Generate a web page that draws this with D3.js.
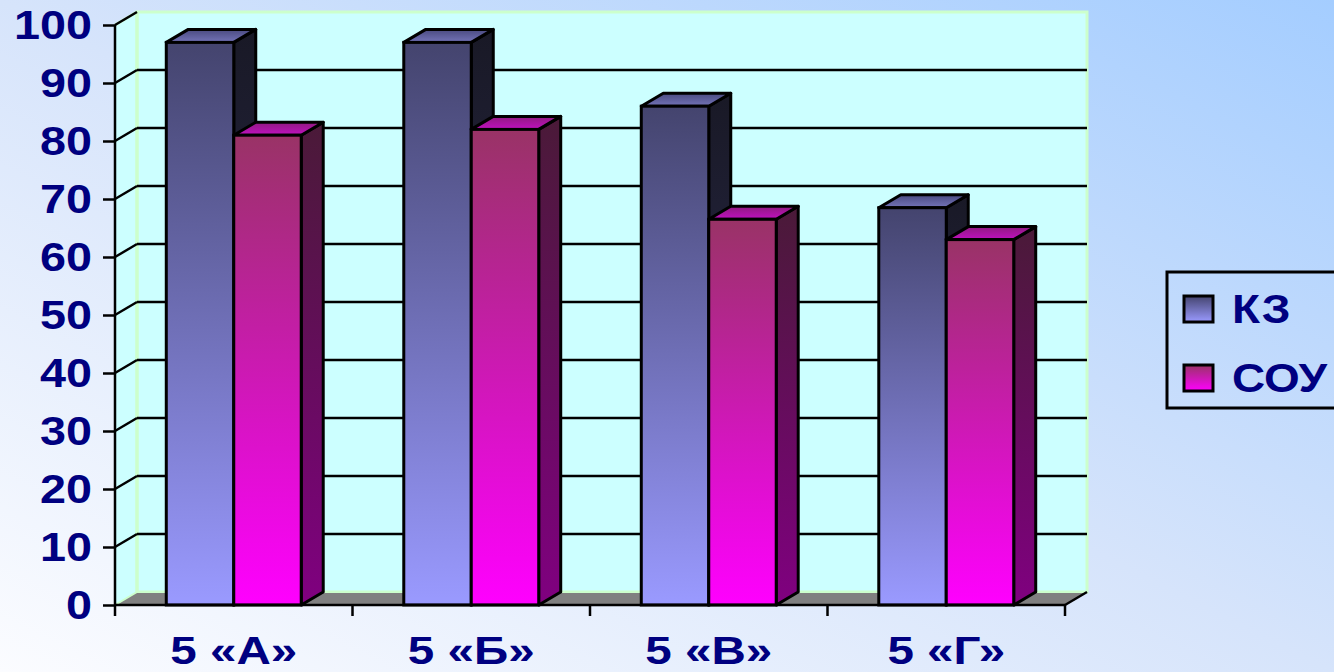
<!DOCTYPE html>
<html>
<head>
<meta charset="utf-8">
<script src="https://d3js.org/d3.v7.min.js"></script>
<style>
  html, body { margin: 0; padding: 0; overflow: hidden; }
  svg { display: block; font-family: "Liberation Sans", Arial, sans-serif; font-weight: bold; }
</style>
</head>
<body>
<svg id="chart" width="1334" height="672"></svg>
<script>
// data
var categories = ['5 «А»', '5 «Б»', '5 «В»', '5 «Г»'];
var seriesNames = ['КЗ', 'СОУ'];
var kzValues = [97, 97, 86, 68.5];
var souValues = [81, 82, 66.5, 63];
var yTicks = [0, 10, 20, 30, 40, 50, 60, 70, 80, 90, 100];

var svg = d3.select('#chart');
var W = 1334, H = 672;
var dx = 22, dy = -13;   // depth of the 3d box

var defs = svg.append('defs');
function grad(id, x1, y1, x2, y2, stops) {
    var g = defs.append('linearGradient').attr('id', id)
        .attr('x1', x1).attr('y1', y1).attr('x2', x2).attr('y2', y2);
    stops.forEach(function(s) {
        g.append('stop').attr('offset', s[0]).attr('stop-color', s[1]);
    });
}
grad('bg', '0%', '100%', '100%', '0%', [[0, '#fbfcff'], [0.5, '#d6e4fb'], [1, '#a4cdff']]);
grad('kzFront', '0', '0', '0', '1', [[0, '#44446e'], [1, '#9a9aff']]);
grad('kzSide', '0', '0', '0', '1', [[0, '#191926'], [1, '#30305a']]);
grad('kzTop', '0', '1', '0', '0', [[0, '#7474b8'], [1, '#4a4a80']]);
grad('souFront', '0', '0', '0', '1', [[0, '#993366'], [1, '#ff00ff']]);
grad('souSide', '0', '0', '0', '1', [[0, '#4a1a38'], [1, '#800080']]);
grad('souTop', '0', '1', '0', '0', [[0, '#c010c0'], [1, '#901a80']]);

svg.append('rect').attr('width', W).attr('height', H).attr('fill', 'url(#bg)');

var x0 = d3.scaleBand().domain(categories).range([115, 1065]);
var x1 = d3.scaleBand().domain(seriesNames).range([0, x0.bandwidth()]).paddingOuter(0.76);
var y = d3.scaleLinear().domain([0, 100]).range([605, 25]);

var xl = x0.range()[0], xr = x0.range()[1];
var y0 = y(0), yTop = y(100);

// left side wall
svg.append('path')
    .attr('d', 'M' + xl + ',' + y0 + 'L' + xl + ',' + yTop + 'L' + (xl + dx) + ',' + (yTop + dy) + 'L' + (xl + dx) + ',' + (y0 + dy) + 'Z')
    .attr('fill', '#ccffff');
// back wall
svg.append('rect')
    .attr('x', xl + dx).attr('y', yTop + dy)
    .attr('width', xr - xl).attr('height', y0 - yTop)
    .attr('fill', '#ccffff').attr('stroke', '#ccffcc').attr('stroke-width', 3);
svg.append('line')
    .attr('x1', xl).attr('y1', yTop).attr('x2', xl + dx).attr('y2', yTop + dy)
    .attr('stroke', '#ccffcc').attr('stroke-width', 3);
svg.append('line')
    .attr('x1', xl + dx).attr('y1', yTop + dy).attr('x2', xl + dx).attr('y2', y0 + dy)
    .attr('stroke', '#ccffcc').attr('stroke-width', 3);

// gridlines on back wall and on side wall
var grid = yTicks.filter(function(t) { return t > 0 && t < 100; });
svg.selectAll('.grid').data(grid).enter().append('line')
    .attr('class', 'grid')
    .attr('x1', xl + dx).attr('x2', xr + dx)
    .attr('y1', function(d) { return y(d) + dy; })
    .attr('y2', function(d) { return y(d) + dy; })
    .attr('stroke', '#000').attr('stroke-width', 2.5);
svg.selectAll('.sgrid').data(grid).enter().append('line')
    .attr('class', 'sgrid')
    .attr('x1', xl).attr('x2', xl + dx)
    .attr('y1', function(d) { return y(d); })
    .attr('y2', function(d) { return y(d) + dy; })
    .attr('stroke', '#000').attr('stroke-width', 2.5);

// floor
svg.append('path')
    .attr('d', 'M' + xl + ',' + y0 + 'L' + xr + ',' + y0 + 'L' + (xr + dx) + ',' + (y0 + dy) + 'L' + (xl + dx) + ',' + (y0 + dy) + 'Z')
    .attr('fill', '#808080');
svg.append('line')
    .attr('x1', xl + dx).attr('x2', xr + dx).attr('y1', y0 + dy).attr('y2', y0 + dy)
    .attr('stroke', '#ccffcc').attr('stroke-width', 2);
svg.append('line')
    .attr('x1', xr).attr('y1', y0).attr('x2', xr + dx).attr('y2', y0 + dy)
    .attr('stroke', '#000').attr('stroke-width', 2.5);
svg.append('line')
    .attr('x1', xl).attr('y1', y0).attr('x2', xl + dx).attr('y2', y0 + dy)
    .attr('stroke', '#ccffcc').attr('stroke-width', 2);

// bars
var bars = [];
categories.forEach(function(c, i) {
    bars.push({ cat: c, s: 'КЗ', v: kzValues[i], key: 'kz' });
    bars.push({ cat: c, s: 'СОУ', v: souValues[i], key: 'sou' });
});
var g = svg.selectAll('.bar').data(bars).enter().append('g').attr('class', 'bar');
function bx(d) { return x0(d.cat) + x1(d.s); }
var bw = x1.bandwidth();
g.append('path') // side
    .attr('d', function(d) {
        var a = bx(d) + bw, t = y(d.v);
        return 'M' + a + ',' + y0 + 'L' + a + ',' + t + 'L' + (a + dx) + ',' + (t + dy) + 'L' + (a + dx) + ',' + (y0 + dy) + 'Z';
    })
    .attr('fill', function(d) { return 'url(#' + d.key + 'Side)'; })
    .attr('stroke', '#000').attr('stroke-width', 3).attr('stroke-linejoin', 'round');
g.append('path') // top
    .attr('d', function(d) {
        var a = bx(d), t = y(d.v);
        return 'M' + a + ',' + t + 'L' + (a + bw) + ',' + t + 'L' + (a + bw + dx) + ',' + (t + dy) + 'L' + (a + dx) + ',' + (t + dy) + 'Z';
    })
    .attr('fill', function(d) { return 'url(#' + d.key + 'Top)'; })
    .attr('stroke', '#000').attr('stroke-width', 3).attr('stroke-linejoin', 'round');
g.append('rect') // front
    .attr('x', bx).attr('y', function(d) { return y(d.v); })
    .attr('width', bw).attr('height', function(d) { return y0 - y(d.v); })
    .attr('fill', function(d) { return 'url(#' + d.key + 'Front)'; })
    .attr('stroke', '#000').attr('stroke-width', 3);

// axes (text in the original is a bit stretched sideways)
var yAxis = d3.axisLeft(y).tickValues(yTicks).tickSize(12).tickPadding(10);
var ya = svg.append('g').attr('transform', 'translate(' + xl + ',0)').call(yAxis);
ya.select('.domain').attr('stroke', '#000').attr('stroke-width', 2.5).attr('d', 'M0,' + yTop + 'V' + y0);
ya.selectAll('.tick line').attr('stroke', '#000').attr('stroke-width', 2.5);
ya.selectAll('.tick text').attr('fill', '#000080').attr('font-size', 41).attr('font-weight', 'bold')
    .attr('font-family', '"Liberation Sans", Arial, sans-serif')
    .attr('x', 0).attr('transform', 'translate(-23,0) scale(1.14,1)');
svg.append('line')
    .attr('x1', xl).attr('y1', yTop).attr('x2', xl + dx).attr('y2', yTop + dy)
    .attr('stroke', '#000').attr('stroke-width', 2.5);

var xAxis = d3.axisBottom(x0).tickSize(0).tickPadding(0);
var xa = svg.append('g').attr('transform', 'translate(0,' + y0 + ')').call(xAxis);
xa.select('.domain').attr('stroke', '#000').attr('stroke-width', 2.5).attr('d', 'M' + xl + ',0H' + xr);
xa.selectAll('.tick text').attr('fill', '#000080').attr('font-size', 39).attr('font-weight', 'bold')
    .attr('font-family', '"Liberation Sans", Arial, sans-serif')
    .attr('y', 0).attr('dy', null)
    .attr('transform', 'translate(0,59) scale(1.22,1)');
var bounds = categories.map(function(c) { return x0(c); }).concat([xr]);
xa.selectAll('.sep').data(bounds).enter().append('line')
    .attr('class', 'sep')
    .attr('x1', function(d) { return d; }).attr('x2', function(d) { return d; })
    .attr('y1', 0).attr('y2', 11)
    .attr('stroke', '#000').attr('stroke-width', 2.5);

// legend
var lg = svg.append('g').attr('transform', 'translate(1167,272)');
lg.append('rect').attr('width', 200).attr('height', 136)
    .attr('fill', 'none').attr('stroke', '#000').attr('stroke-width', 3);
var li = lg.selectAll('.li').data(seriesNames).enter().append('g')
    .attr('transform', function(d, i) { return 'translate(17,' + (24 + i * 69) + ')'; });
li.append('rect').attr('width', 29).attr('height', 26)
    .attr('fill', function(d, i) { return i === 0 ? 'url(#kzFront)' : 'url(#souFront)'; })
    .attr('stroke', '#000').attr('stroke-width', 3);
li.append('text').attr('transform', 'translate(48,27) scale(1.12,1)')
    .attr('fill', '#000080').attr('font-size', 41)
    .text(function(d) { return d; });
</script>
</body>
</html>
